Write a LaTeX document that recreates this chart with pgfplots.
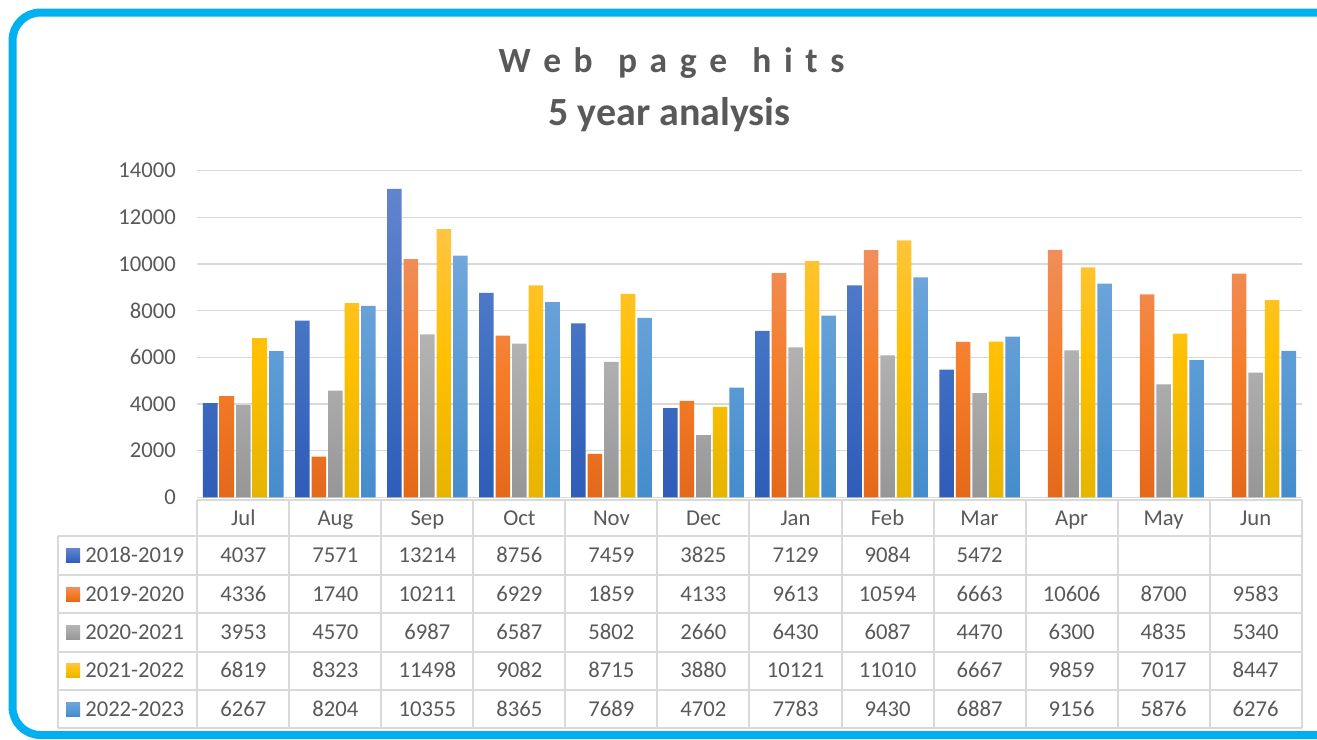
\documentclass[border=0pt]{standalone}
\usepackage{pgfplots}
\pgfplotsset{compat=1.18}
\usepackage{pgfplotstable}
\usepackage{fontspec}
\setmainfont{Carlito}
\newfontfamily\titlefontA[LetterSpace=13]{Carlito}
\definecolor{txt}{HTML}{595959}
\definecolor{gridc}{HTML}{D9D9D9}
\definecolor{framec}{HTML}{00B0F0}
\definecolor{bAt}{RGB}{98,132,206}\definecolor{bAm}{RGB}{68,114,196}\definecolor{bAb}{RGB}{46,92,184}
\definecolor{bBt}{RGB}{240,142,92}\definecolor{bBm}{RGB}{245,125,40}\definecolor{bBb}{RGB}{228,104,26}
\definecolor{bCt}{RGB}{180,180,180}\definecolor{bCm}{RGB}{166,166,166}\definecolor{bCb}{RGB}{150,150,150}
\definecolor{bDt}{RGB}{255,196,64}\definecolor{bDm}{RGB}{255,192,0}\definecolor{bDb}{RGB}{230,180,0}
\definecolor{bEt}{RGB}{112,166,220}\definecolor{bEm}{RGB}{91,155,213}\definecolor{bEb}{RGB}{68,140,204}
\newcommand\tabfont{\fontsize{17}{20}\selectfont}

\pgfplotstableread{
idx y1 y2 y3 y4 y5
0 4037 4336 3953 6819 6267
1 7571 1740 4570 8323 8204
2 13214 10211 6987 11498 10355
3 8756 6929 6587 9082 8365
4 7459 1859 5802 8715 7689
5 3825 4133 2660 3880 4702
6 7129 9613 6430 10121 7783
7 9084 10594 6087 11010 9430
8 5472 6663 4470 6667 6887
9 nan 10606 6300 9859 9156
10 nan 8700 4835 7017 5876
11 nan 9583 5340 8447 6276
}\hits

\begin{document}
\begin{tikzpicture}[x=0.75pt,y=-0.75pt]
\useasboundingbox (0,0) rectangle (1317,739);
\begin{scope}
\clip (0,0) rectangle (1317,739);
\draw[framec, line width=6pt, rounded corners=21pt] (12.5,12.5) rectangle (1345,735);
\end{scope}
% title
\node[anchor=base, text=txt, font=\titlefontA\fontsize{26.6}{30}\selectfont\bfseries] at (671.5,72.3) {W e b\ \ p a g e\ \ h i t s};
\node[anchor=base, text=txt, font=\fontsize{30}{34}\selectfont\bfseries] at (669.5,125.7) {5 year analysis};
\coordinate (O) at (197.3,497.3);
\begin{axis}[
  at={(O)}, anchor=south west,
  scale only axis, width=828.3pt, height=245pt,
  xmin=-0.5, xmax=11.5, ymin=0, ymax=14000,
  ybar=1.5pt, bar width=10.9pt,
  axis line style={draw=none},
  xtick=\empty,
  ytick={0,2000,...,14000},
  ymajorgrids, grid style={gridc, line width=1.1pt},
  major tick length=0pt,
  scaled y ticks=false,
  /pgf/number format/.cd, 1000 sep={}, assume math mode=true,
  /pgfplots/.cd,
  yticklabel style={font=\tabfont, text=txt, xshift=-12.5pt},
]
\addplot[draw=none, top color=bAt, bottom color=bAb, middle color=bAm] table[x=idx,y=y1]{\hits};
\addplot[draw=none, top color=bBt, bottom color=bBb, middle color=bBm] table[x=idx,y=y2]{\hits};
\addplot[draw=none, top color=bCt, bottom color=bCb, middle color=bCm] table[x=idx,y=y3]{\hits};
\addplot[draw=none, top color=bDt, bottom color=bDb, middle color=bDm] table[x=idx,y=y4]{\hits};
\addplot[draw=none, top color=bEt, bottom color=bEb, middle color=bEm] table[x=idx,y=y5]{\hits};
\end{axis}
% data table
\begin{scope}[gridc, line width=1.5pt]
\draw (197.3,500) -- (1301.7,500);
\foreach \yy in {536,575,613,651.7,690,727.7} \draw (57.7,\yy) -- (1301.7,\yy);
\draw (57.7,536) -- (57.7,727.7);
\foreach \k in {0,...,12} \draw ({197.3+92.03*\k},500) -- ({197.3+92.03*\k},727.7);
\end{scope}
\foreach \m [count=\i from 0] in {Jul,Aug,Sep,Oct,Nov,Dec,Jan,Feb,Mar,Apr,May,Jun}
  \node[anchor=base, font=\tabfont, text=txt, inner sep=0pt] at ({197.3+92.03*(\i+0.5)},525) {\m};
\def\nanstr{nan}
\foreach \c/\lab/\yb/\cl [count=\r from 0] in {y1/2018-2019/562.7/bA, y2/2019-2020/601.3/bB, y3/2020-2021/639.5/bC, y4/2021-2022/677.7/bD, y5/2022-2023/716/bE}{
  \shade[top color=\cl t, bottom color=\cl b, middle color=\cl m] (66,\yb-14) rectangle (80,\yb);
  \node[anchor=base west, font=\tabfont, text=txt, inner sep=0pt] at (85,\yb) {\lab};
  \foreach \i in {0,...,11}{
    \pgfplotstablegetelem{\i}{\c}\of\hits
    \ifx\pgfplotsretval\nanstr\else
      \node[anchor=base, font=\tabfont, text=txt, inner sep=0pt] at ({197.3+92.03*(\i+0.5)},\yb) {\pgfplotsretval};
    \fi
  }
}
\end{tikzpicture}
\end{document}
